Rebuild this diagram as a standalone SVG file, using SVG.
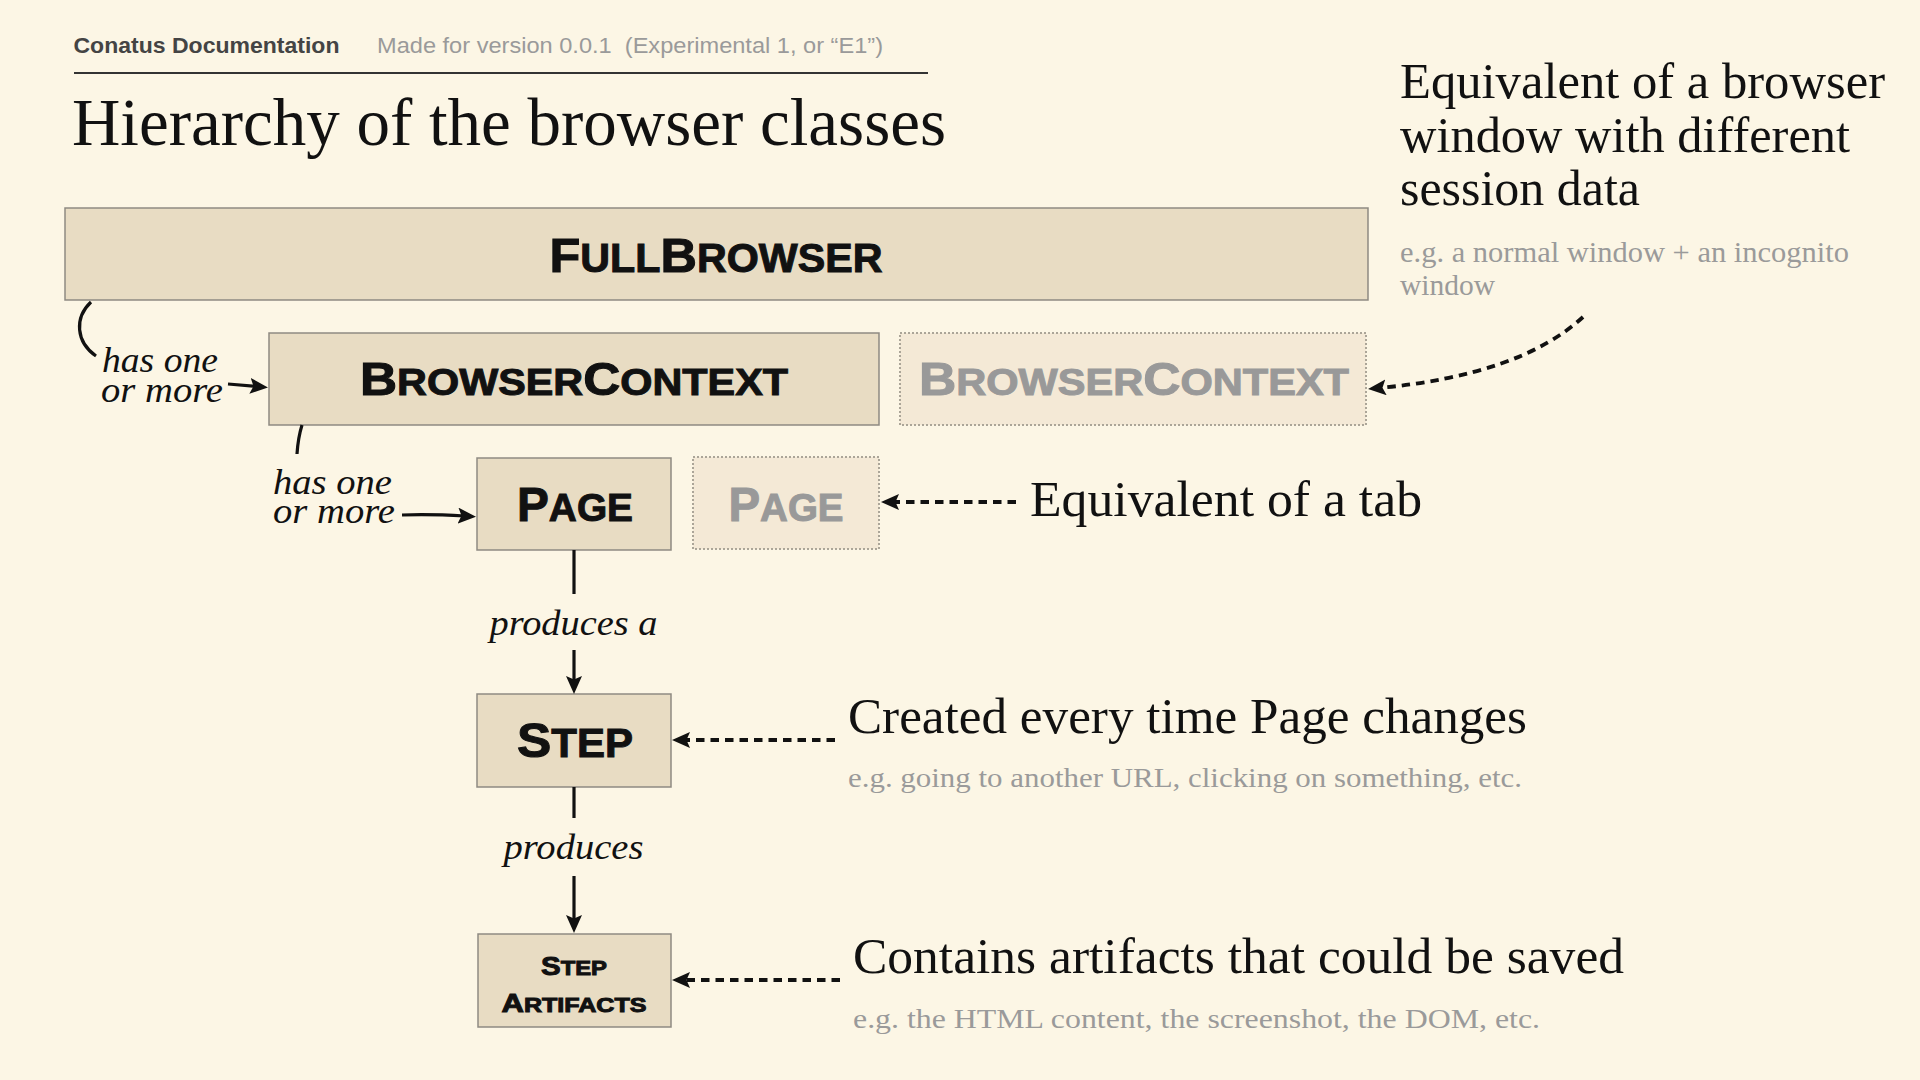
<svg xmlns="http://www.w3.org/2000/svg" width="1920" height="1080" viewBox="0 0 1920 1080">
  <defs>
    <style>
      .bg { fill: #FCF6E5; }
      .box { fill: #E8DCC3; stroke: #8E8A82; stroke-width: 1.5; }
      .ghost { fill: #F4E9D6; stroke: #ABA598; stroke-width: 2; stroke-dasharray: 2 2; }
      .lbl { font-family: "Liberation Sans", Arial, sans-serif; font-weight: bold; fill: #111; stroke: #111; stroke-width: 1; }
      .glbl { font-family: "Liberation Sans", Arial, sans-serif; font-weight: bold; fill: #999; stroke: #999; stroke-width: 1; }
      .serif { font-family: "Liberation Serif", "Times New Roman", serif; fill: #111; }
      .sub { font-family: "Liberation Serif", "Times New Roman", serif; fill: #9A9A9A; }
      .ital { font-family: "Liberation Serif", "Times New Roman", serif; font-style: italic; fill: #111; font-size: 36px; }
      .solid { fill: none; stroke: #111; stroke-width: 3.2; }
      .dot { fill: none; stroke: #111; stroke-width: 3.8; stroke-dasharray: 8.5 6; }
    </style>
    <marker id="ah" viewBox="0 0 18 16" refX="7" refY="8" markerWidth="18" markerHeight="16" markerUnits="userSpaceOnUse" orient="auto">
      <path d="M0,0 L18,8 L0,16 L3.5,8 z" fill="#111"/>
    </marker>
  </defs>

  <rect class="bg" x="0" y="0" width="1920" height="1080"/>

  <g id="header">
    <text x="73.5" y="53" font-family="Liberation Sans, Arial, sans-serif" font-weight="bold" font-size="22" fill="#444" textLength="266" lengthAdjust="spacingAndGlyphs">Conatus Documentation</text>
    <text x="377" y="53" xml:space="preserve" font-family="Liberation Sans, Arial, sans-serif" font-size="22" fill="#9A9A9A" textLength="506" lengthAdjust="spacingAndGlyphs">Made for version 0.0.1  (Experimental 1, or “E1”)</text>
    <line x1="74" y1="73" x2="928" y2="73" stroke="#333" stroke-width="2"/>
    <text class="serif" x="72" y="145" font-size="68" textLength="874" lengthAdjust="spacingAndGlyphs">Hierarchy of the browser classes</text>
  </g>

  <g id="node-fullbrowser">
    <rect class="box" x="65" y="208" width="1303" height="92"/>
    <text class="lbl" x="716" y="272" text-anchor="middle" textLength="333" lengthAdjust="spacingAndGlyphs"><tspan font-size="49">F</tspan><tspan font-size="40">ULL</tspan><tspan font-size="49">B</tspan><tspan font-size="40">ROWSER</tspan></text>
  </g>

  <g id="node-browsercontext">
    <rect class="box" x="269" y="333" width="610" height="92"/>
    <text class="lbl" x="574" y="395" text-anchor="middle" textLength="428" lengthAdjust="spacingAndGlyphs"><tspan font-size="46">B</tspan><tspan font-size="37">ROWSER</tspan><tspan font-size="46">C</tspan><tspan font-size="37">ONTEXT</tspan></text>
  </g>

  <g id="node-browsercontext-ghost">
    <rect class="ghost" x="900" y="333" width="466" height="92"/>
    <text class="glbl" x="1134" y="395" text-anchor="middle" textLength="430" lengthAdjust="spacingAndGlyphs"><tspan font-size="46">B</tspan><tspan font-size="37">ROWSER</tspan><tspan font-size="46">C</tspan><tspan font-size="37">ONTEXT</tspan></text>
  </g>

  <g id="node-page">
    <rect class="box" x="477" y="458" width="194" height="92"/>
    <text class="lbl" x="575" y="521" text-anchor="middle" textLength="116" lengthAdjust="spacingAndGlyphs"><tspan font-size="48">P</tspan><tspan font-size="39">AGE</tspan></text>
  </g>

  <g id="node-page-ghost">
    <rect class="ghost" x="693" y="457" width="186" height="92"/>
    <text class="glbl" x="786" y="521" text-anchor="middle" textLength="115" lengthAdjust="spacingAndGlyphs"><tspan font-size="48">P</tspan><tspan font-size="39">AGE</tspan></text>
  </g>

  <g id="node-step">
    <rect class="box" x="477" y="694" width="194" height="93"/>
    <text class="lbl" x="575" y="757" text-anchor="middle" textLength="116" lengthAdjust="spacingAndGlyphs"><tspan font-size="49">S</tspan><tspan font-size="40">TEP</tspan></text>
  </g>

  <g id="node-step-artifacts">
    <rect class="box" x="478" y="934" width="193" height="93"/>
    <text class="lbl" x="574" y="975" text-anchor="middle" textLength="66" lengthAdjust="spacingAndGlyphs" stroke-width="0.6"><tspan font-size="26">S</tspan><tspan font-size="21">TEP</tspan></text>
    <text class="lbl" x="574" y="1012" text-anchor="middle" textLength="145" lengthAdjust="spacingAndGlyphs" stroke-width="0.6"><tspan font-size="26">A</tspan><tspan font-size="21">RTIFACTS</tspan></text>
  </g>

  <g id="note-browsercontext">
    <text class="serif" x="1400" y="98" font-size="50" textLength="485" lengthAdjust="spacingAndGlyphs">Equivalent of a browser</text>
    <text class="serif" x="1400" y="152" font-size="50" textLength="450" lengthAdjust="spacingAndGlyphs">window with different</text>
    <text class="serif" x="1400" y="205" font-size="50" textLength="240" lengthAdjust="spacingAndGlyphs">session data</text>
    <text class="sub" x="1400" y="262" font-size="29" textLength="449" lengthAdjust="spacingAndGlyphs">e.g. a normal window + an incognito</text>
    <text class="sub" x="1400" y="295" font-size="29" textLength="95" lengthAdjust="spacingAndGlyphs">window</text>
  </g>

  <g id="note-page">
    <text class="serif" x="1030" y="516" font-size="50" textLength="392" lengthAdjust="spacingAndGlyphs">Equivalent of a tab</text>
  </g>

  <g id="note-step">
    <text class="serif" x="848" y="733" font-size="50" textLength="679" lengthAdjust="spacingAndGlyphs">Created every time Page changes</text>
    <text class="sub" x="848" y="787" font-size="28" textLength="674" lengthAdjust="spacingAndGlyphs">e.g. going to another URL, clicking on something, etc.</text>
  </g>

  <g id="note-step-artifacts">
    <text class="serif" x="853" y="973" font-size="50" textLength="771" lengthAdjust="spacingAndGlyphs">Contains artifacts that could be saved</text>
    <text class="sub" x="853" y="1028" font-size="28" textLength="687" lengthAdjust="spacingAndGlyphs">e.g. the HTML content, the screenshot, the DOM, etc.</text>
  </g>

  <g id="connectors">
    <path class="solid" d="M91,302 C74,318 76,342 96,356"/>
    <text class="ital" x="102" y="372" textLength="116" lengthAdjust="spacingAndGlyphs">has one</text>
    <text class="ital" x="101" y="402" textLength="122" lengthAdjust="spacingAndGlyphs">or more</text>
    <path class="solid" d="M228,384 L257,386.5" marker-end="url(#ah)"/>

    <path class="solid" d="M302,425 Q298,438 297,454"/>
    <text class="ital" x="273" y="494" textLength="119" lengthAdjust="spacingAndGlyphs">has one</text>
    <text class="ital" x="273" y="523" textLength="122" lengthAdjust="spacingAndGlyphs">or more</text>
    <path class="solid" d="M402,515 Q430,514 465,516" marker-end="url(#ah)"/>

    <path class="solid" d="M574,550 L574,594"/>
    <text class="ital" x="573.5" y="635" text-anchor="middle" textLength="168" lengthAdjust="spacingAndGlyphs">produces a</text>
    <path class="solid" d="M574,650 L574,683" marker-end="url(#ah)"/>

    <path class="solid" d="M574,787 L574,818"/>
    <text class="ital" x="573.5" y="859" text-anchor="middle" textLength="140" lengthAdjust="spacingAndGlyphs">produces</text>
    <path class="solid" d="M574,876 L574,922" marker-end="url(#ah)"/>

    <path class="dot" d="M1583,317 Q1520,375 1379,388" marker-end="url(#ah)"/>
    <path class="dot" d="M1016,502 L892,502" marker-end="url(#ah)"/>
    <path class="dot" d="M835,740 L683,740" marker-end="url(#ah)"/>
    <path class="dot" d="M840,980 L683,980" marker-end="url(#ah)"/>
  </g>
</svg>
